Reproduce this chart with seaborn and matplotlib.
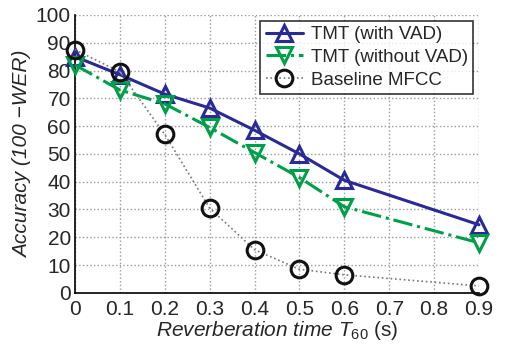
import numpy as np
import matplotlib
matplotlib.use("Agg")
import matplotlib.pyplot as plt
import seaborn as sns

# data
t60 = [0, 0.1, 0.2, 0.3, 0.4, 0.5, 0.6, 0.9]
tmt_vad = [85, 78.5, 71.5, 66.5, 58.5, 50, 40.5, 24.5]
tmt_novad = [82, 73, 68, 59.5, 50.5, 41.5, 31, 18]
baseline = [87.5, 79.5, 57, 30.5, 15.5, 8.5, 6.5, 2.5]
series_names = ["TMT (with VAD)", "TMT (without VAD)", "Baseline MFCC"]
xticks = [0, 0.1, 0.2, 0.3, 0.4, 0.5, 0.6, 0.7, 0.8, 0.9]
yticks = [0, 10, 20, 30, 40, 50, 60, 70, 80, 90, 100]

sns.set_style("white")
plt.rcParams["font.family"] = ["Liberation Sans", "DejaVu Sans"]
plt.rcParams["mathtext.fontset"] = "custom"
plt.rcParams["mathtext.it"] = "Liberation Sans:italic"
plt.rcParams["mathtext.rm"] = "Liberation Sans"

fig = plt.figure(figsize=(5.05, 3.47), dpi=100)
ax = fig.add_axes([0.1485, 0.156, 0.8, 0.801])

styles = [
    (tmt_vad, "#2a2a96", "^", "-", 2.2),
    (tmt_novad, "#00a04a", "v", "-.", 2.2),
    (baseline, "#111111", "o", ":", 1.2),
]
for (vals, col, mk, ls, lw), name in zip(styles, series_names):
    lc = "#777777" if ls == ":" else col
    sns.lineplot(x=t60, y=vals, ax=ax, color=lc, linestyle=ls, linewidth=lw,
                 marker=mk, markersize=12, markerfacecolor="none",
                 markeredgecolor=col, markeredgewidth=2.2, label=name,
                 clip_on=False, zorder=3)

ax.set_xlim(0, 0.9)
ax.set_ylim(0, 100)
ax.set_xticks(xticks)
ax.set_xticklabels([f"{v:g}" for v in xticks])
ax.set_yticks(yticks)
ax.tick_params(labelsize=15, length=0, pad=5)
ax.tick_params(axis="y", pad=3)
ax.grid(True, linestyle=":", color="#999999", linewidth=1)
for s in ["top", "right"]:
    ax.spines[s].set_visible(False)
for s in ["left", "bottom"]:
    ax.spines[s].set_color("black")
    ax.spines[s].set_linewidth(1.2)

ax.set_xlabel(r"$\mathit{Reverberation\ time\ T_{60}}$ (s)", fontsize=15, labelpad=0)
ax.set_ylabel("Accuracy (100 \u2212WER)", fontsize=15, style="italic", labelpad=3)

leg = ax.legend(loc="upper right", fontsize=13.5, frameon=True, fancybox=False,
                borderpad=0.3, labelspacing=0.3, handlelength=2.0,
                handletextpad=0.4, borderaxespad=0.3)
leg.get_frame().set_edgecolor("black")
leg.get_frame().set_linewidth(1.2)

plt.savefig("out.png", dpi=100)
